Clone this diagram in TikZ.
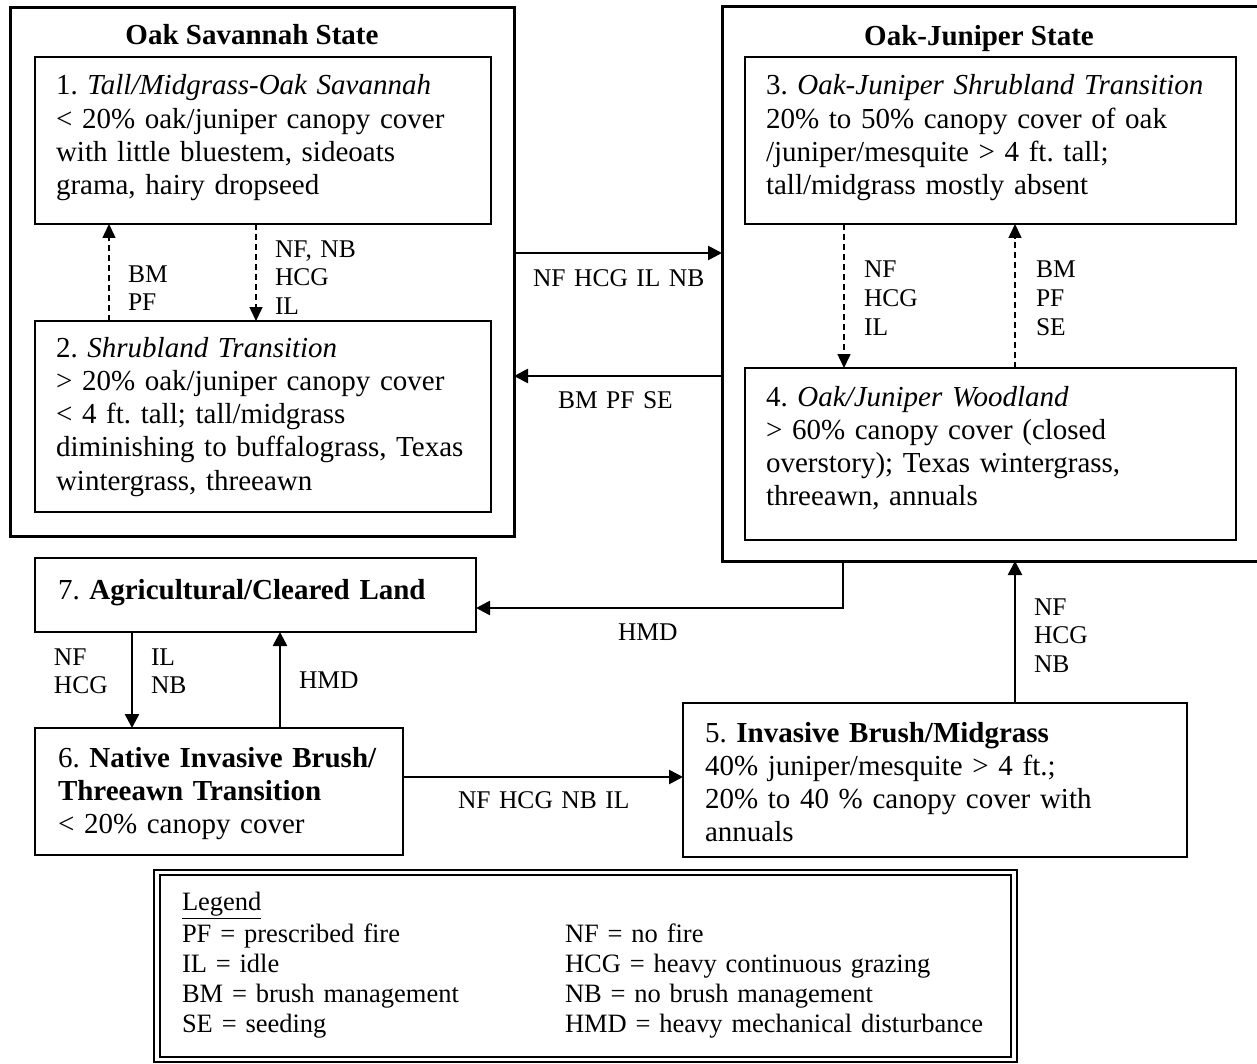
\documentclass[tikz,border=0pt]{standalone}
\usepackage{fontspec}
\setmainfont{Liberation Serif}
\usetikzlibrary{arrows.meta}
\frenchspacing
\begin{document}
\begin{tikzpicture}[x=0.5pt,y=-0.5pt,
  every node/.style={inner sep=0pt, outer sep=0pt},
  statebox/.style={draw, line width=1.5pt, anchor=north west, rectangle},
  phase/.style={draw, line width=1pt, anchor=north west, rectangle},
  phasebold/.style={draw, line width=1.4pt, anchor=north west, rectangle},
  body/.style={anchor=base west, align=left, text width=235pt, font=\fontsize{14.5pt}{16.65pt}\selectfont\frenchspacing},
  ttl/.style={anchor=base, font=\fontsize{14.5pt}{16.65pt}\selectfont\bfseries},
  lbl/.style={anchor=base west, align=left, text width=150pt, font=\fontsize{12.75pt}{14.4pt}\selectfont},
  leg/.style={anchor=base west, align=left, text width=240pt, font=\fontsize{13.25pt}{15pt}\selectfont},
  solidarr/.style={line width=1.3pt, -{Triangle[length=7pt,width=7pt]}},
  dasharr/.style={line width=0.75pt, dash pattern=on 3pt off 2pt, -{Triangle[length=7pt,width=6.5pt]}},
]
\useasboundingbox (0,0) rectangle (1257,1064);
\clip (0,0) rectangle (1257,1064);
\fill[white] (0,0) rectangle (1257,1064);

% state boxes
\node[statebox, minimum width=252pt, minimum height=264pt] (osav) at (10,8) {};
\node[statebox, minimum width=280pt, minimum height=277pt] (ojun) at (722,7) {};
\node[ttl] (tsav) at (252,45) {Oak Savannah State};
\node[ttl] (tjun) at (979,46) {Oak-Juniper State};

% phase boxes
\node[phase, minimum width=228pt, minimum height=83.5pt] (b1) at (35,57) {};
\node[phase, minimum width=228pt, minimum height=95.5pt] (b2) at (35,321) {};
\node[phase, minimum width=245.5pt, minimum height=83.5pt] (b3) at (745,57) {};
\node[phase, minimum width=245.5pt, minimum height=86pt] (b4) at (745,368) {};
\node[phasebold, minimum width=252pt, minimum height=77pt] (b5) at (683,703) {};
\node[phasebold, minimum width=184pt, minimum height=63.5pt] (b6) at (35,728) {};
\node[phasebold, minimum width=220.5pt, minimum height=37pt] (b7) at (35,558) {};

% box texts
\node[body] (t1) at (56,95) {1. \textit{Tall/Midgrass-Oak Savannah}\\< 20\% oak/juniper canopy cover\\with little bluestem, sideoats\\grama, hairy dropseed};
\node[body] (t2) at (56,357) {2. \textit{Shrubland Transition}\\> 20\% oak/juniper canopy cover\\< 4 ft. tall; tall/midgrass\\diminishing to buffalograss, Texas\\wintergrass, threeawn};
\node[body] (t3) at (766,95) {3. \textit{Oak-Juniper Shrubland Transition}\\20\% to 50\% canopy cover of oak\\/juniper/mesquite > 4 ft. tall;\\tall/midgrass mostly absent};
\node[body] (t4) at (766,406) {4. \textit{Oak/Juniper Woodland}\\> 60\% canopy cover (closed\\overstory); Texas wintergrass,\\threeawn, annuals};
\node[body] (t5) at (705,742) {5. \textbf{Invasive Brush/Midgrass}\\40\% juniper/mesquite > 4 ft.;\\20\% to 40 \% canopy cover with\\annuals};
\node[body] (t6) at (58,767) {6. \textbf{Native Invasive Brush/}\\\textbf{Threeawn Transition}\\< 20\% canopy cover};
\node[body] (t7) at (58,599) {7. \textbf{Agricultural/Cleared Land}};

% connectors
\draw[solidarr] (osav.east |- 0,253) -- (ojun.west |- 0,253);
\draw[solidarr] (ojun.west |- 0,376) -- (osav.east |- 0,376);
\draw[dasharr] (b1.south -| 256,0) -- (b2.north -| 256,0);
\draw[dasharr] (b2.north -| 109,0) -- (b1.south -| 109,0);
\draw[dasharr] (b3.south -| 844,0) -- (b4.north -| 844,0);
\draw[dasharr] (b4.north -| 1015,0) -- (b3.south -| 1015,0);
\draw[solidarr] (ojun.south -| 843,0) |- (b7.east |- 0,608);
\draw[solidarr] (b5.north -| 1015,0) -- (ojun.south -| 1015,0);
\draw[solidarr] (b7.south -| 132,0) -- (b6.north -| 132,0);
\draw[solidarr] (b6.north -| 280,0) -- (b7.south -| 280,0);
\draw[solidarr] (b6.east |- 0,777) -- (b5.west |- 0,777);

% labels
\node[lbl] (l1) at (128,282) {BM\\PF};
\node[lbl] (l2) at (275,257) {NF, NB\\HCG\\IL};
\node[lbl] (l3) at (533,286) {NF HCG IL NB};
\node[lbl] (l4) at (558,408) {BM PF SE};
\node[lbl] (l5) at (864,278) {NF\\HCG\\IL};
\node[lbl] (l6) at (1036,278) {BM\\PF\\SE};
\node[lbl] (l7) at (618,640) {HMD};
\node[lbl] (l8) at (54,665) {NF\\HCG};
\node[lbl] (l9) at (151,665) {IL\\NB};
\node[lbl] (l10) at (299,688) {HMD};
\node[lbl] (l11) at (458,808) {NF HCG NB IL};
\node[lbl] (l12) at (1034,615) {NF\\HCG\\NB};

% legend
\node[draw, line width=1.25pt, anchor=north west, minimum width=431.5pt, minimum height=96pt] (legout) at (154,870) {};
\node[draw, line width=0.75pt, anchor=north west, minimum width=425.5pt, minimum height=91pt] (legin) at (160,875) {};
\node[leg] (lg0) at (182,910) {\underline{Legend}};
\node[leg] (lg1) at (182,942) {PF = prescribed fire\\IL = idle\\BM = brush management\\SE = seeding};
\node[leg] (lg2) at (565,942) {NF = no fire\\HCG = heavy continuous grazing\\NB = no brush management\\HMD = heavy mechanical disturbance};
\end{tikzpicture}
\end{document}
